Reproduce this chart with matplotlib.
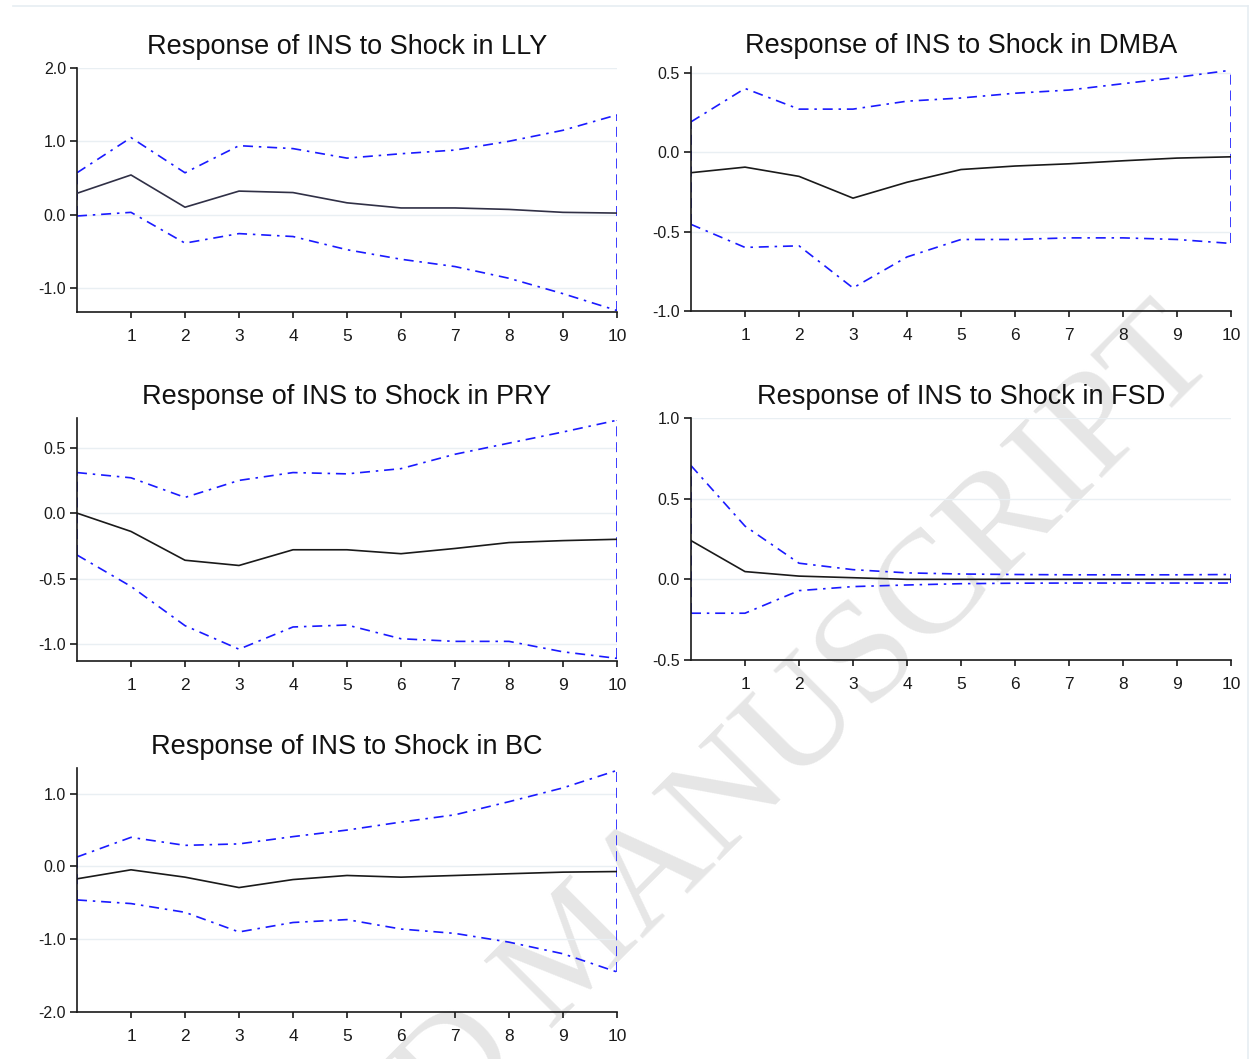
import matplotlib
matplotlib.use("Agg")
import matplotlib.pyplot as plt
from matplotlib.lines import Line2D
import numpy as np

plt.rcParams['font.family'] = ['Liberation Sans', 'DejaVu Sans']

periods = list(range(0, 11))
x_ticks = list(range(1, 11))

titles = ["Response of INS to Shock in LLY",
          "Response of INS to Shock in DMBA",
          "Response of INS to Shock in PRY",
          "Response of INS to Shock in FSD",
          "Response of INS to Shock in BC"]

lly_resp = [0.29, 0.54, 0.10, 0.32, 0.30, 0.16, 0.09, 0.09, 0.07, 0.03, 0.02]
lly_up   = [0.57, 1.05, 0.57, 0.94, 0.90, 0.77, 0.83, 0.88, 1.00, 1.15, 1.36]
lly_lo   = [-0.02, 0.03, -0.39, -0.26, -0.30, -0.48, -0.61, -0.71, -0.87, -1.08, -1.31]

dmba_resp = [-0.13, -0.095, -0.153, -0.29, -0.19, -0.11, -0.088, -0.074, -0.055, -0.038, -0.03]
dmba_up   = [0.19, 0.40, 0.27, 0.27, 0.32, 0.34, 0.37, 0.39, 0.43, 0.47, 0.515]
dmba_lo   = [-0.455, -0.60, -0.59, -0.855, -0.66, -0.55, -0.55, -0.54, -0.54, -0.55, -0.575]

pry_resp = [0.0, -0.14, -0.36, -0.40, -0.28, -0.28, -0.31, -0.27, -0.225, -0.21, -0.20]
pry_up   = [0.31, 0.27, 0.12, 0.25, 0.31, 0.30, 0.34, 0.45, 0.535, 0.62, 0.71]
pry_lo   = [-0.32, -0.56, -0.86, -1.04, -0.87, -0.855, -0.96, -0.98, -0.98, -1.06, -1.11]

fsd_resp = [0.24, 0.048, 0.02, 0.01, 0.0, 0.0, 0.0, 0.0, 0.0, 0.0, 0.0]
fsd_up   = [0.705, 0.33, 0.10, 0.06, 0.04, 0.033, 0.03, 0.028, 0.028, 0.028, 0.03]
fsd_lo   = [-0.21, -0.21, -0.07, -0.045, -0.035, -0.027, -0.024, -0.023, -0.023, -0.023, -0.023]

bc_resp = [-0.17, -0.046, -0.147, -0.29, -0.18, -0.124, -0.147, -0.124, -0.10, -0.078, -0.07]
bc_up   = [0.13, 0.40, 0.29, 0.31, 0.41, 0.50, 0.61, 0.71, 0.89, 1.08, 1.32]
bc_lo   = [-0.46, -0.51, -0.63, -0.90, -0.77, -0.73, -0.86, -0.92, -1.04, -1.20, -1.45]

series = [(lly_resp, lly_up, lly_lo), (dmba_resp, dmba_up, dmba_lo),
          (pry_resp, pry_up, pry_lo), (fsd_resp, fsd_up, fsd_lo),
          (bc_resp, bc_up, bc_lo)]

yticks = [[-1.0, 0.0, 1.0, 2.0], [-1.0, -0.5, 0.0, 0.5], [-1.0, -0.5, 0.0, 0.5],
          [-0.5, 0.0, 0.5, 1.0], [-2.0, -1.0, 0.0, 1.0]]
ylims = [(-1.33, 2.0), (-1.0, 0.535), (-1.13, 0.727), (-0.5, 1.0), (-2.0, 1.353)]

W, H = 1259, 1059
fig = plt.figure(figsize=(W / 100, H / 100), dpi=100)

# panel boxes in pixels: left, top, right, bottom
boxes = [(77, 68, 617, 312), (691, 67, 1231, 311),
         (77, 418, 617, 661), (691, 418, 1231, 660),
         (77, 768, 617, 1012)]

# watermark
fig.text(1195 / W, 1 - 335 / H, "ACCEPTED MANUSCRIPT", family=['Liberation Serif', 'DejaVu Serif'],
         fontsize=106, color='#e6e6e6', rotation=45, rotation_mode='anchor',
         ha='right', va='center', zorder=-5)

# faint frame
fig.add_artist(Line2D([13 / W, 1248 / W], [1 - 6 / H, 1 - 6 / H], color='#e6edf2', lw=1.2))
fig.add_artist(Line2D([1248 / W, 1248 / W], [1 - 6 / H, 0], color='#e6edf2', lw=1.2))

band_color = '#1a1aff'
for i, (box, (resp, up, lo)) in enumerate(zip(boxes, series)):
    l, t, r, b = box
    ax = fig.add_axes([l / W, 1 - b / H, (r - l) / W, (b - t) / H])
    ax.patch.set_alpha(0)
    ax.set_xlim(0, 10)
    ax.set_ylim(*ylims[i])
    for yv in yticks[i]:
        ax.axhline(yv, color='#e9eff3', lw=1.0, zorder=0)
    ax.plot(periods, up, color=band_color, lw=1.2, dashes=(6, 3.5, 1.5, 3.5), zorder=2)
    ax.plot(periods, lo, color=band_color, lw=1.2, dashes=(6, 3.5, 1.5, 3.5), zorder=2)
    ax.vlines([periods[0], periods[-1]], [lo[0], lo[-1]], [up[0], up[-1]],
              colors=band_color, lw=1.2, linestyles=(0, (6, 3.5)), zorder=2)
    ax.plot(periods, resp, color='#1a1a1a' if i else '#303046', lw=1.2, zorder=3)

    ax.set_xticks(x_ticks)
    ax.set_xticklabels([str(v) for v in x_ticks])
    ax.set_yticks(yticks[i])
    ax.set_yticklabels([f"{v:.1f}" for v in yticks[i]])
    for s in ['top', 'right']:
        ax.spines[s].set_visible(False)
    for s in ['left', 'bottom']:
        ax.spines[s].set_linewidth(1.2)
        ax.spines[s].set_color('#1a1a1a')
    ax.tick_params(axis='x', direction='out', length=4, width=1.2, pad=8,
                   labelsize=12.5, colors='#1a1a1a')
    ax.tick_params(axis='y', direction='out', length=5, width=1.2, pad=3,
                   labelsize=11.5, colors='#1a1a1a')
    ax.set_title(titles[i], fontsize=19.5, pad=10, color='#111111')

fig.savefig("out.png", dpi=100)
